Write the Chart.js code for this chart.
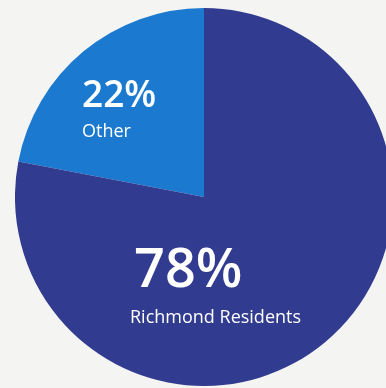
<!DOCTYPE html>
<html>
<head>
<meta charset="utf-8">
<script src="https://cdn.jsdelivr.net/npm/chart.js@4/dist/chart.umd.min.js"></script>
<style>
  html, body { margin: 0; padding: 0; background: #f4f4f2; overflow: hidden; }
  body { width: 386px; height: 388px; position: relative; }
  #wrap { position: absolute; left: 15px; top: 8px; width: 378px; height: 378px; }
</style>
</head>
<body>
<div id="wrap"><canvas id="pieChart"></canvas></div>
<script>
var labels = ["Other", "Richmond Residents"];
var values = [22, 78];
var colors = ["#1b79d0", "#313b8f"];

// where each slice's text sits, relative to the pie centre (px)
var labelSpots = [
    { dx: -122, dy: -90, gap: 30, big: 37, small: 18, shift: 0 },
    { dx: -70, dy: 90, gap: 36, big: 54, small: 18, shift: -4 }
];

var sliceText = {
    id: 'sliceText',
    afterDatasetsDraw: function (chart) {
        var ctx = chart.ctx;
        var meta = chart.getDatasetMeta(0);
        var ds = chart.data.datasets[0];
        ctx.save();
        ctx.fillStyle = '#ffffff';
        ctx.textAlign = 'left';
        ctx.textBaseline = 'alphabetic';
        meta.data.forEach(function (arc, i) {
            var s = labelSpots[i];
            var x = arc.x + s.dx;
            var y = arc.y + s.dy;
            ctx.font = '600 ' + s.big + 'px "Open Sans"';
            ctx.fillText(ds.data[i] + '%', x, y);
            ctx.font = '400 ' + s.small + 'px "Open Sans"';
            ctx.fillText(chart.data.labels[i], x + s.shift, y + s.gap);
        });
        ctx.restore();
    }
};

function drawPie () {
    var ctx = document.getElementById('pieChart').getContext('2d');
    window.myPie = new Chart(ctx, {
        type: 'pie',
        data: {
            labels: labels,
            datasets: [{
                data: values,
                backgroundColor: colors,
                borderWidth: 0
            }]
        },
        options: {
            responsive: true,
            maintainAspectRatio: false,
            animation: false,
            rotation: -79.2,   // "Other" ends at 12 o'clock
            layout: { padding: 0 },
            plugins: {
                legend: { display: false },
                tooltip: { enabled: false }
            }
        },
        plugins: [sliceText]
    });
}

drawPie();
</script>
</body>
</html>
